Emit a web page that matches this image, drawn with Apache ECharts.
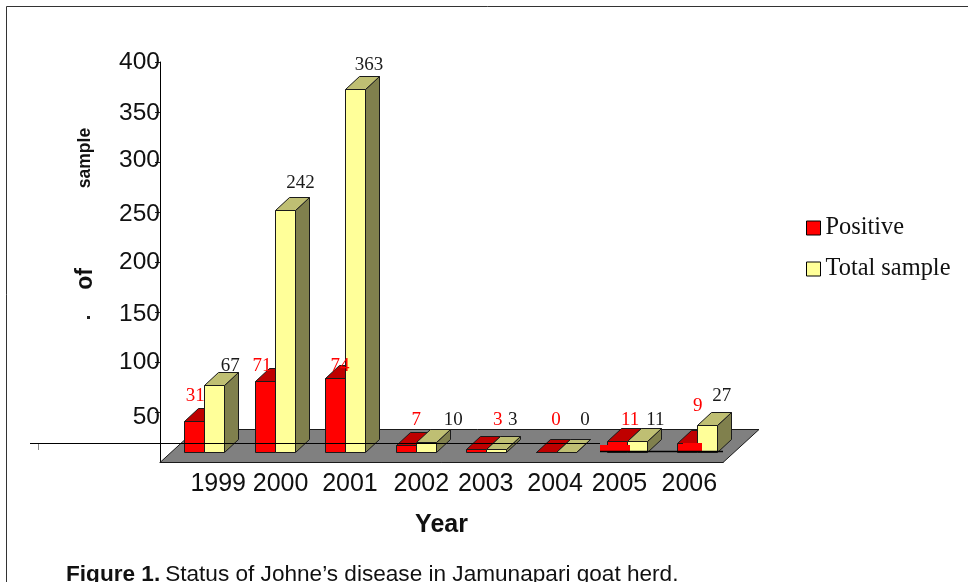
<!DOCTYPE html>
<html>
<head>
<meta charset="utf-8">
<title>Status of Johne's disease in Jamunapari goat herd</title>
<script src="https://cdn.jsdelivr.net/npm/echarts@6/dist/echarts.min.js"></script>
<style>
html, body { margin: 0; padding: 0; background: #fff; }
#chart { width: 968px; height: 582px; }
</style>
</head>
<body>
<div id="chart"></div>
<script>
// values as printed above the bars
const years = ["1999", "2000", "2001", "2002", "2003", "2004", "2005", "2006"];
const positive = [31, 71, 74, 7, 3, 0, 11, 9];
const totalSample = [67, 242, 363, 10, 3, 0, 11, 27];
const yTicks = [50, 100, 150, 200, 250, 300, 350, 400];

// hand placed labels in the original, px away from the tick / bar top
const yearShift = [23, 15, 14, 15, 9, 8, 2, 1.5];
const yTickShift = [5, 0, 2, 0, 2, -2, 1, 0];
const positiveLabelDx = [0, -3.6, 4, 10, 21, 9, 12.6, 10];
const positiveLabelDy = [-34.5, -24.5, -21.5, -34.5, -38.5, -41.5, -30.5, -46.5];
const totalLabelDx = [35, 35, 33, 47, 36, 38, 38, 34];
const totalLabelDy = [-28.5, -36.5, -33.5, -31.5, -38.5, -41.5, -30.5, -38.5];

const ARIAL = '"Liberation Sans", Arial, sans-serif';
const TIMES = '"Liberation Serif", "Times New Roman", serif';

// bar geometry
const barWidth = 20;
const depthX = 14;
const depthY = 13;
const planeX = 9.3; // bars stand this far back on the floor
const planeY = 10;

const chart = echarts.init(document.getElementById("chart"), null, { renderer: "canvas" });

function poly(points, fill) {
	return {
		type: "polygon",
		shape: { points: points },
		style: { fill: fill, stroke: "#1a1a1a", lineWidth: 1 },
	};
}

// one 3D bar, side = -1 left of the centre line, 0 right of it
function bar3d(colors, side) {
	return function (params, api) {
		const top = api.coord([api.value(0), api.value(1)]);
		const base = api.coord([api.value(0), 0]);
		const x0 = Math.round(top[0] + planeX + side * barWidth) + 0.5;
		const x1 = Math.round(top[0] + planeX + (side + 1) * barWidth) + 0.5;
		const y0 = Math.round(base[1] - planeY) + 0.5;
		const y1 = Math.round(top[1] - planeY) + 0.5;
		return {
			type: "group",
			children: [
				poly([[x1, y0], [x1 + depthX, y0 - depthY], [x1 + depthX, y1 - depthY], [x1, y1]], colors.side),
				poly([[x0, y1], [x1, y1], [x1 + depthX, y1 - depthY], [x0 + depthX, y1 - depthY]], colors.top),
				poly([[x0, y0], [x1, y0], [x1, y1], [x0, y1]], colors.face),
			],
		};
	};
}

function barSeries(name, values, colors, side, z) {
	return {
		name: name,
		type: "custom",
		z: z,
		silent: true,
		itemStyle: { color: colors.face },
		encode: { x: 0, y: 1 },
		data: values.map((v, i) => [i, v]),
		renderItem: bar3d(colors, side),
	};
}

function labelSeries(name, values, dx, dy, color) {
	return {
		name: name,
		type: "custom",
		z: 6,
		silent: true,
		encode: { x: 0, y: 1 },
		data: values.map((v, i) => [i, v]),
		renderItem: function (params, api) {
			const i = params.dataIndex;
			const p = api.coord([api.value(0), api.value(1)]);
			return {
				type: "text",
				style: {
					x: p[0] + dx[i],
					y: p[1] + dy[i],
					text: String(values[i]),
					fill: color,
					font: "19px " + TIMES,
					align: "center",
					verticalAlign: "middle",
				},
			};
		},
	};
}

// rich styles only used to push the tick labels off their ticks
const yearRich = {};
yearShift.forEach((s, i) => {
	yearRich["y" + i] = { fontFamily: ARIAL, fontSize: 25, color: "#111", padding: [0, 0, 0, s * 2] };
});
const yTickRich = {};
yTicks.forEach((t, i) => {
	const s = yTickShift[i];
	yTickRich["t" + t] = {
		fontFamily: ARIAL,
		fontSize: 24.5,
		color: "#111",
		padding: [s > 0 ? s * 2 : 0, 0, s < 0 ? -s * 2 : 0, 0],
	};
});

const option = {
	animation: false,
	backgroundColor: "#fff",
	title: {
		left: 61,
		top: 558,
		text: "{b|Figure 1.} {n|Status of Johne’s disease in Jamunapari goat herd.}",
		textStyle: {
			fontWeight: "normal",
			rich: {
				b: { fontFamily: ARIAL, fontSize: 22.6, fontWeight: "bold", color: "#111" },
				n: { fontFamily: ARIAL, fontSize: 22.6, fontWeight: "normal", color: "#111" },
			},
		},
	},
	legend: {
		orient: "vertical",
		left: 801,
		top: 211,
		icon: "rect",
		itemWidth: 14,
		itemHeight: 14,
		itemGap: 17,
		data: ["Positive", "Total sample"],
		selectedMode: false,
		itemStyle: { borderColor: "#000", borderWidth: 1 },
		textStyle: { fontFamily: TIMES, fontSize: 24.4, color: "#111" },
	},
	grid: { left: 160, top: 62, width: 563, height: 400 },
	xAxis: {
		type: "category",
		data: years,
		name: "Year",
		nameLocation: "middle",
		nameGap: 51,
		nameTextStyle: { fontFamily: ARIAL, fontSize: 25, fontWeight: "bold", color: "#111" },
		axisLine: { lineStyle: { color: "#000", width: 1 } },
		axisTick: { show: false },
		axisLabel: {
			interval: 0,
			margin: 10,
			formatter: (value, index) => "{y" + index + "|" + value + "}",
			rich: yearRich,
		},
	},
	yAxis: {
		type: "value",
		min: 0,
		max: 400,
		interval: 50,
		splitLine: { show: false },
		axisLine: { show: true, lineStyle: { color: "#000", width: 1 } },
		axisTick: { show: true, length: 5, lineStyle: { color: "#222" }, customValues: yTicks },
		axisLabel: {
			margin: 0,
			showMinLabel: false,
			formatter: (value) => (value === 0 ? "" : "{t" + value + "|" + value + "}"),
			rich: yTickRich,
		},
	},
	series: [
		{
			name: "floor",
			type: "custom",
			z: 1,
			silent: true,
			encode: { x: 0, y: 1 },
			data: [[0, 0]],
			renderItem: function (params) {
				const c = params.coordSys;
				const b = c.y + c.height + 0.5;
				return poly([
					[c.x, b],
					[c.x + c.width, b],
					[c.x + c.width + 36, b - 33],
					[c.x + 36, b - 33],
				], "#808080");
			},
		},
		barSeries("Positive", positive, { face: "#ff0000", top: "#bf0000", side: "#800000" }, -1, 3),
		barSeries("Total sample", totalSample, { face: "#ffff99", top: "#bfbf73", side: "#80804d" }, 0, 4),
		labelSeries("Positive labels", positive, positiveLabelDx, positiveLabelDy, "#ff0000"),
		labelSeries("Total labels", totalSample, totalLabelDx, totalLabelDy, "#1a1a1a"),
	],
	graphic: [
		// page frame
		{ type: "polyline", z: 100, silent: true, shape: { points: [[6.5, 582], [6.5, 6.5], [968, 6.5]] }, style: { fill: null, stroke: "#333", lineWidth: 1 } },
		// broken y axis title, the rest is lost in the original
		{ type: "text", z: 100, silent: true, x: 85, y: 158, rotation: Math.PI / 2, style: { text: "sample", font: "bold 17.5px " + ARIAL, fill: "#111", align: "center", verticalAlign: "middle" } },
		{ type: "text", z: 100, silent: true, x: 86, y: 279, rotation: Math.PI / 2, style: { text: "of", font: "bold 23px " + ARIAL, fill: "#111", align: "center", verticalAlign: "middle" } },
		{ type: "rect", z: 100, silent: true, shape: { x: 87, y: 316, width: 3, height: 3 }, style: { fill: "#222" } },
		// stray strokes left on the figure
		{ type: "line", z: 100, silent: true, shape: { x1: 30, y1: 443.5, x2: 600, y2: 443.5 }, style: { stroke: "#000", lineWidth: 1 } },
		{ type: "line", z: 100, silent: true, shape: { x1: 38.5, y1: 444, x2: 38.5, y2: 450 }, style: { stroke: "#888", lineWidth: 1 } },
		{ type: "rect", z: 100, silent: true, shape: { x: 600, y: 445, width: 30, height: 6 }, style: { fill: "#ff0000" } },
		{ type: "rect", z: 100, silent: true, shape: { x: 683, y: 443, width: 19, height: 8 }, style: { fill: "#ff0000" } },
		{ type: "line", z: 100, silent: true, shape: { x1: 600, y1: 451.5, x2: 723, y2: 451.5 }, style: { stroke: "#000", lineWidth: 1.5 } },
	],
};

chart.setOption(option);
</script>
</body>
</html>
